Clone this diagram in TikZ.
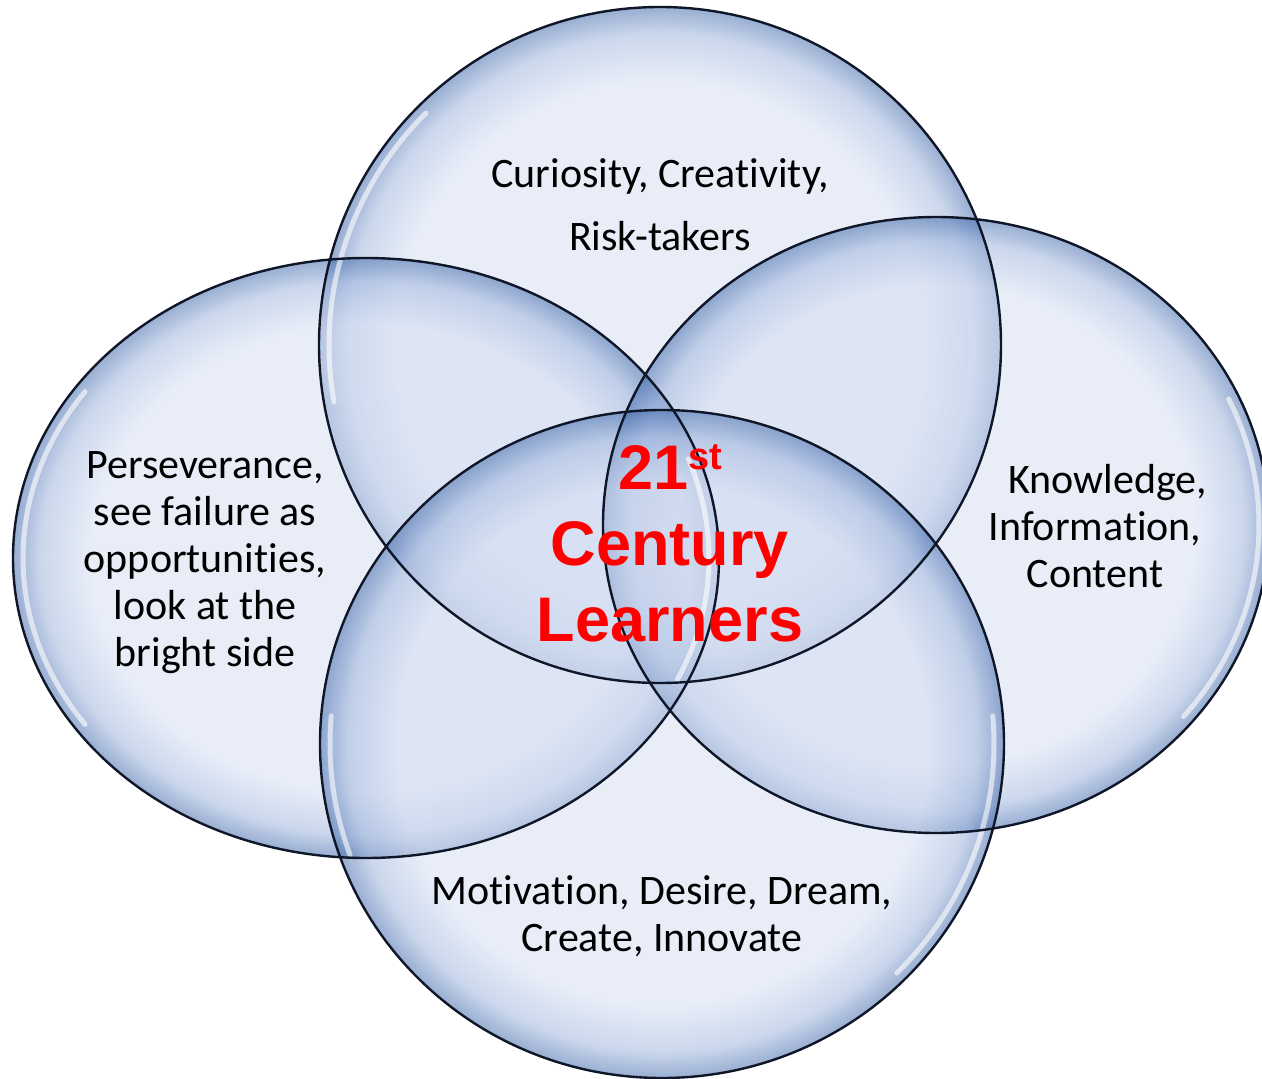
\documentclass[tikz,border=0pt]{standalone}
\usepackage{fontspec}
\setmainfont{Carlito}[RawFeature=-liga]
\newfontfamily\redfont{Liberation Sans}

\definecolor{bubin}{HTML}{D3DDF1}
\definecolor{bubmid}{HTML}{9DB3DC}
\definecolor{bubrim}{HTML}{3A64A8}
\definecolor{bubline}{HTML}{0F1628}

\pgfdeclareradialshading{bubble}{\pgfpoint{0bp}{0bp}}{%
  color(0bp)=(bubin); color(19.5bp)=(bubin); color(23bp)=(bubmid);
  color(25bp)=(bubrim); color(50bp)=(bubrim)}

\tikzset{
  bubble fill/.style={shading=bubble, fill opacity=0.52},
  bubble rim/.style={draw=bubline, line width=2.4pt},
  bubble shine/.style={draw=white, line width=5pt, draw opacity=0.6, line cap=round},
  label text/.style={font=\fontsize{42}{47}\selectfont, align=center, inner sep=0pt},
  title text/.style={font=\redfont\bfseries\fontsize{63}{76}\selectfont, text=red, align=center, inner sep=0pt}
}

\begin{document}
\begin{tikzpicture}[x=1pt,y=-1pt]
\useasboundingbox (0,0) rectangle (1262,1079);

% top, left, right, bottom
\foreach \cx/\cy/\rx/\ry in {660/345/341/338, 366/558/353/300, 936/525/333/308, 662/744/342/334}{
  \shade[bubble fill] (\cx,\cy) ellipse [x radius=\rx pt, y radius=\ry pt];
}

% glassy shine just inside the rims
\foreach \cx/\cy/\rx/\ry/\a/\b in {660/345/341/338/135/190, 366/558/353/300/145/215,
  366/558/353/300/-25/20, 936/525/333/308/-40/25, 662/744/342/334/-45/5, 662/744/342/334/175/200}{
  \pgfmathsetmacro\hx{\rx-10}
  \pgfmathsetmacro\hy{\ry-10}
  \draw[bubble shine,shift={(\cx,\cy)}] (\a:\hx pt and \hy pt)
    arc [start angle=\a, end angle=\b, x radius=\hx pt, y radius=\hy pt];
}

\foreach \cx/\cy/\rx/\ry in {660/345/341/338, 366/558/353/300, 936/525/333/308, 662/744/342/334}{
  \draw[bubble rim] (\cx,\cy) ellipse [x radius=\rx pt, y radius=\ry pt];
}

\node[label text] (curiosity) at (660,205) {Curiosity, Creativity,\\[16pt] Risk-takers};
\node[label text] (persev) at (205,563) {Perseverance,\\ see failure as\\ opportunities,\\ look at the\\ bright side};
\node[label text] (knowledge) at (1095,526) {\hspace*{0.6em}Knowledge,\\ Information,\\ Content};
\node[label text] (motivation) at (662,916) {Motivation, Desire, Dream,\\ Create, Innovate};
\node[title text] (learners) at (670,543) {21\raisebox{20pt}{\fontsize{38}{38}\selectfont st}\\ Century\\ Learners};

\end{tikzpicture}
\end{document}
